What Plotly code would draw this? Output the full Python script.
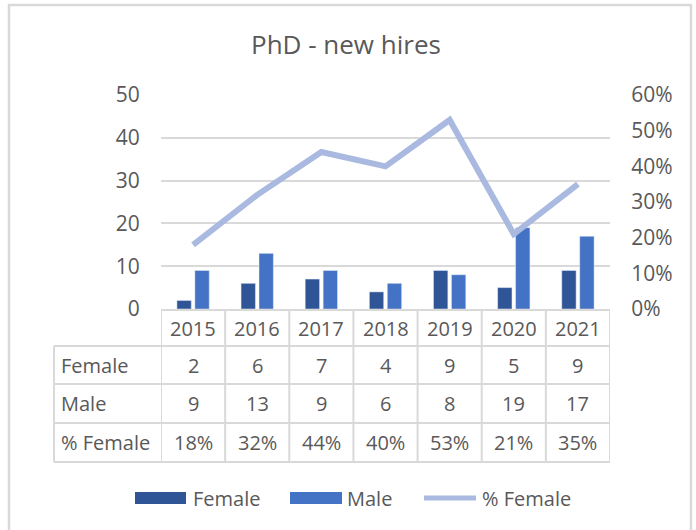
import plotly.graph_objects as go

years = ["2015", "2016", "2017", "2018", "2019", "2020", "2021"]
female = [2, 6, 7, 4, 9, 5, 9]
male = [9, 13, 9, 6, 8, 19, 17]
pct_female = [0.18, 0.32, 0.44, 0.40, 0.53, 0.21, 0.35]
row_labels = ["Female", "Male", "% Female"]
title_text = "PhD - new hires"

C_F = "#2F5597"
C_M = "#4472C4"
C_L = "#A9B9E0"
TXT = "#595959"
GRID = "#D9D9D9"
FONT = "Open Sans"

W, H = 696, 530
PL, PR, PT, PB = 161, 610, 95, 309  # plot area in px


def px_x(px):
    return (px - PL) / (PR - PL)


def px_y(py):
    return (PB - py) / (PB - PT)


fig = go.Figure()
fig.add_trace(go.Bar(x=years, y=female, name="Female", marker_color=C_F, yaxis="y"))
fig.add_trace(go.Bar(x=years, y=male, name="Male", marker_color=C_M, yaxis="y"))
fig.add_trace(go.Scatter(x=years, y=pct_female, name="% Female", mode="lines",
                         line=dict(color=C_L, width=6), yaxis="y2"))

shapes = []
ann = []

# table geometry (px)
row_bounds = [310, 346, 384, 423, 462]
lab_left = 54
n = len(years)
line_style = dict(color=GRID, width=2)

# horizontal lines
shapes.append(dict(type="line", xref="paper", yref="paper", x0=0, x1=1,
                   y0=px_y(row_bounds[0]), y1=px_y(row_bounds[0]), line=line_style))
for rb in row_bounds[1:]:
    shapes.append(dict(type="line", xref="paper", yref="paper", x0=px_x(lab_left), x1=1,
                       y0=px_y(rb), y1=px_y(rb), line=line_style))
# vertical lines on category boundaries
for k in range(n + 1):
    shapes.append(dict(type="line", xref="x", yref="paper", x0=k - 0.5, x1=k - 0.5,
                       y0=px_y(row_bounds[0]), y1=px_y(row_bounds[-1]), line=line_style))
shapes.append(dict(type="line", xref="paper", yref="paper", x0=px_x(lab_left), x1=px_x(lab_left),
                   y0=px_y(row_bounds[1]), y1=px_y(row_bounds[-1]), line=line_style))

# year header row
for i, yv in enumerate(years):
    ann.append(dict(x=i, xref="x", y=px_y((row_bounds[0] + row_bounds[1]) / 2), yref="paper",
                    text=yv, showarrow=False, font=dict(size=20, color=TXT, family=FONT),
                    xanchor="center", yanchor="middle"))

rows = [female, male, [f"{round(v * 100)}%" for v in pct_female]]
for r, (lab, vals) in enumerate(zip(row_labels, rows)):
    yc = px_y((row_bounds[r + 1] + row_bounds[r + 2]) / 2)
    ann.append(dict(x=px_x(59), xref="paper", y=yc, yref="paper", text=lab, showarrow=False,
                    font=dict(size=20, color=TXT, family=FONT), xanchor="left", yanchor="middle"))
    for i, v in enumerate(vals):
        ann.append(dict(x=i, xref="x", y=yc, yref="paper", text=str(v), showarrow=False,
                        font=dict(size=20, color=TXT, family=FONT), xanchor="center", yanchor="middle"))

# legend (manual)
ly = 498
leg = [("Female", "bar", C_F, 135, 186, 191), ("Male", "bar", C_M, 290, 342, 345),
       ("% Female", "line", C_L, 422, 478, 480)]
for name, kind, col, x0, x1, tx in leg:
    if kind == "bar":
        shapes.append(dict(type="rect", xref="paper", yref="paper", x0=px_x(x0), x1=px_x(x1),
                           y0=px_y(ly + 6), y1=px_y(ly - 6), fillcolor=col, line=dict(width=0)))
    else:
        shapes.append(dict(type="line", xref="paper", yref="paper", x0=px_x(x0 + 2), x1=px_x(x1 - 2),
                           y0=px_y(ly), y1=px_y(ly), line=dict(color=col, width=5)))
    ann.append(dict(x=px_x(tx), xref="paper", y=px_y(ly), yref="paper", text=name, showarrow=False,
                    font=dict(size=20, color=TXT, family=FONT), xanchor="left", yanchor="middle"))

# outer chart border
shapes.append(dict(type="rect", xref="paper", yref="paper", x0=px_x(9), x1=px_x(691),
                   y0=px_y(540), y1=px_y(5), line=dict(color=GRID, width=2.5), fillcolor="rgba(0,0,0,0)",
                   layer="below"))

# title
ann.append(dict(x=px_x(346), xref="paper", y=px_y(44), yref="paper", text=title_text, showarrow=False,
                font=dict(size=26, color=TXT, family=FONT), xanchor="center", yanchor="middle"))

fig.update_layout(
    width=W, height=H,
    margin=dict(l=PL, r=W - PR, t=PT, b=H - PB, pad=0),
    paper_bgcolor="white", plot_bgcolor="white",
    barmode="group", bargap=0.44, bargroupgap=0.2,
    showlegend=False,
    font=dict(family=FONT, color=TXT, size=20),
    xaxis=dict(type="category", showticklabels=False, showgrid=False, zeroline=False, showline=False,
               range=[-0.5, n - 0.5], fixedrange=True),
    yaxis=dict(range=[0, 50], dtick=10, showgrid=True, gridcolor=GRID, gridwidth=2,
               zeroline=False, showline=False, ticks="outside", ticklen=16,
               tickcolor="rgba(0,0,0,0)", tickfont=dict(size=21, color=TXT, family=FONT)),
    yaxis2=dict(range=[0, 0.6], dtick=0.1, tickformat=".0%", overlaying="y", side="right",
                showgrid=False, zeroline=False, showline=False, ticks="outside", ticklen=16,
                tickcolor="rgba(0,0,0,0)", tickfont=dict(size=21, color=TXT, family=FONT)),
    shapes=shapes, annotations=ann,
)

fig.write_html("out.html", config={"displayModeBar": False},
               post_script="document.body.style.margin='0';document.body.style.overflow='hidden';")
